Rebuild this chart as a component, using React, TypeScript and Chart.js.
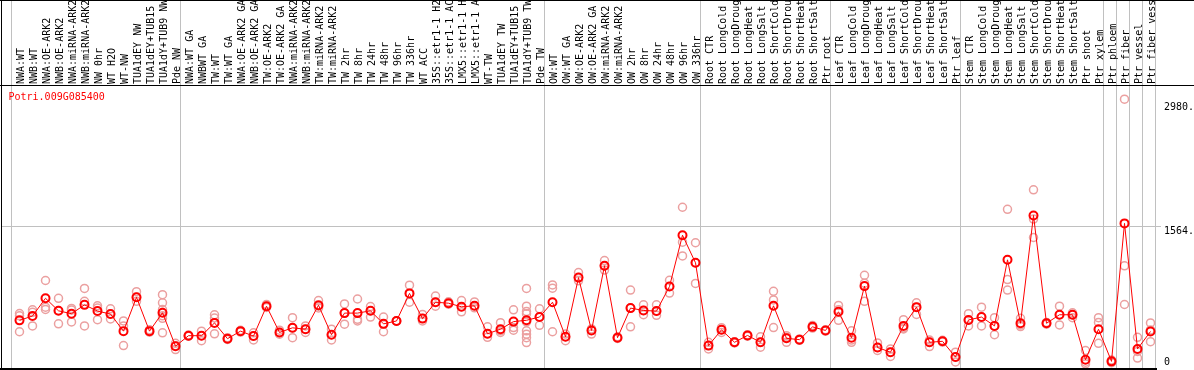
import React, { useEffect, useRef } from "react";
import { Chart, registerables } from "chart.js";

Chart.register(...registerables);

const geneName = "Potri.009G085400";

const categories: string[] = [
  "NWA:WT", "NWB:WT", "NWA:OE-ARK2", "NWB:OE-ARK2", "NWA:miRNA-ARK2", "NWB:miRNA-ARK2",
  "NW 0hr", "WT H2O", "WT-NW", "TUA1dEY NW", "TUA1dEY+TUB15 NW", "TUA1dY+TUB9 NW", "Pde NW",
  "NWA:WT GA", "NWBWT GA", "TW:WT", "TW:WT GA", "NWA:OE-ARK2 GA", "NWB:OE-ARK2 GA",
  "TW:OE-ARK2", "TW:OE-ARK2 GA", "NWA:miRNA-ARK2 GA", "NWB:miRNA-ARK2 GA", "TW:miRNA-ARK2",
  "TW:miRNA-ARK2 GA", "TW 2hr", "TW 8hr", "TW 24hr", "TW 48hr", "TW 96hr", "TW 336hr",
  "WT ACC", "35S::etr1-1 H2O", "35S::etr1-1 ACC", "LMX5::etr1-1 H2O", "LMX5::etr1-1 ACC",
  "WT-TW", "TUA1dEY TW", "TUA1dEY+TUB15 TW", "TUA1dY+TUB9 TW", "Pde TW",
  "OW:WT", "OW:WT GA", "OW:OE-ARK2", "OW:OE-ARK2 GA", "OW:miRNA-ARK2", "OW:miRNA-ARK2 GA",
  "OW 2hr", "OW 8hr", "OW 24hr", "OW 48hr", "OW 96hr", "OW 336hr",
  "Root CTR", "Root LongCold", "Root LongDrought", "Root LongHeat", "Root LongSalt",
  "Root ShortCold", "Root ShortDrought", "Root ShortHeat", "Root ShortSalt", "Ptr root",
  "Leaf CTR", "Leaf LongCold", "Leaf LongDrought", "Leaf LongHeat", "Leaf LongSalt",
  "Leaf ShortCold", "Leaf ShortDrought", "Leaf ShortHeat", "Leaf ShortSalt", "Ptr leaf",
  "Stem CTR", "Stem LongCold", "Stem LongDrought", "Stem LongHeat", "Stem LongSalt",
  "Stem ShortCold", "Stem ShortDrought", "Stem ShortHeat", "Stem ShortSalt", "Ptr shoot",
  "Ptr xylem", "Ptr phloem", "Ptr fiber", "Ptr vessel", "Ptr fiber vessel",
];

const meanValues: number[] = [
  498, 548, 750, 607, 574, 675, 604, 570, 375, 761, 375, 585, 203,
  323, 323, 469, 289, 375, 319, 660, 360, 413, 397, 671, 334, 581, 581, 607, 458, 491, 806,
  518, 705, 694, 653, 664, 345, 397, 484, 499, 536,
  705, 311, 986, 383, 1121, 300, 638, 611, 604, 885, 1470, 1155,
  210, 390, 248, 326, 248, 664, 293, 278, 424, 383,
  596, 300, 889, 188, 135, 435, 649, 248, 259, 79,
  503, 536, 435, 1189, 465, 1695, 465, 562, 562, 49,
  397, 30, 1605, 172, 371,
];

const replicateValues: number[][] = [
  [575, 550, 368], [619, 590, 435], [953, 649, 622], [750, 610, 458], [634, 615, 480],
  [863, 716, 435], [664, 640, 506], [630, 570, 514], [491, 435, 210], [825, 761, 716],
  [390, 370, 365], [791, 698, 622, 550, 521, 356], [236, 208, 165],
  [330, 320, 318], [375, 323, 266], [562, 525, 345], [300, 290, 280], [385, 375, 365],
  [356, 319, 274], [680, 660, 645], [386, 360, 340], [529, 410, 300], [435, 397, 360],
  [724, 660, 640], [397, 334, 274], [686, 581, 454], [742, 510, 491], [656, 607, 536],
  [536, 458, 368], [495, 490, 488], [900, 806, 705], [566, 518, 491], [776, 705, 660],
  [710, 690, 682], [724, 653, 596], [709, 664, 641], [424, 345, 304], [472, 379, 360],
  [619, 416, 386], [863, 660, 600, 574, 480, 379, 340, 300, 244], [630, 536, 442],
  [903, 866, 368], [341, 311, 266], [1043, 986, 950], [400, 383, 341], [1181, 1121, 1072],
  [310, 300, 292], [844, 638, 424], [675, 611, 562], [675, 604, 555], [956, 885, 810],
  [1789, 1391, 1234], [1384, 1155, 919],
  [248, 210, 172], [415, 390, 360], [255, 248, 240], [335, 326, 318], [311, 248, 191],
  [829, 731, 416], [323, 305, 248], [285, 278, 270], [440, 424, 410], [390, 383, 376],
  [668, 620, 499], [379, 273, 248], [1013, 923, 716], [240, 188, 154], [172, 135, 86],
  [506, 410, 400], [698, 649, 566], [273, 248, 199], [270, 259, 250], [135, 79, 23],
  [574, 500, 435], [649, 536, 435], [529, 435, 334], [1766, 964, 844], [521, 445, 427],
  [1988, 1654, 1444], [475, 465, 455], [660, 562, 446], [585, 562, 529], [154, 20, 0],
  [529, 474, 236], [45, 30, 15], [3023, 1121, 679], [304, 144, 68], [469, 389, 255],
];

const groupStarts: number[] = [0, 13, 41, 53, 63, 73, 84, 85, 86, 87];
const yTickValues: number[] = [2980, 1564, 0];
const yTickLabels: string[] = ["2980.", "1564.", "0"];
const gridValues: number[] = [1564];
const Y_MAX = 3173;

const FONT = '10px "DejaVu Sans Mono", "Liberation Mono", monospace';

export default function App() {
  const ref = useRef<HTMLCanvasElement>(null);

  useEffect(() => {
    const canvas = ref.current;
    if (!canvas) return;

    const repPoints = replicateValues.flatMap((reps, i) =>
      reps.map((v) => ({ x: categories[i], y: v }))
    );

    const decor = {
      id: "decor",
      beforeDatasetsDraw(chart: any) {
        const ctx = chart.ctx as CanvasRenderingContext2D;
        const xs = chart.scales.x;
        const ys = chart.scales.y;
        const H = chart.height;
        ctx.save();
        ctx.fillStyle = "#c0c0c0";
        const band = xs.getPixelForValue(1) - xs.getPixelForValue(0);
        const bounds = groupStarts.map((k) => xs.getPixelForValue(k) - 8);
        bounds.push(xs.getPixelForValue(categories.length - 1) + band - 8);
        for (const b of bounds) ctx.fillRect(Math.floor(b), 0, 1, H);
        for (const g of gridValues) {
          ctx.fillRect(1, Math.floor(ys.getPixelForValue(g)), xs.right + 3, 1);
        }
        ctx.restore();
      },
      afterDraw(chart: any) {
        const ctx = chart.ctx as CanvasRenderingContext2D;
        const xs = chart.scales.x;
        const ys = chart.scales.y;
        const W = chart.width;
        const H = chart.height;
        ctx.save();
        ctx.save();
        ctx.beginPath();
        ctx.rect(0, 0, W, 85);
        ctx.clip();
        ctx.font = FONT;
        ctx.fillStyle = "#000";
        ctx.textAlign = "left";
        ctx.textBaseline = "alphabetic";
        categories.forEach((lab, i) => {
          const cx = xs.getPixelForValue(i);
          ctx.save();
          ctx.translate(cx + 4, 84);
          ctx.rotate(-Math.PI / 2);
          ctx.fillText(lab, 0, 0);
          ctx.restore();
        });
        ctx.restore();

        ctx.fillStyle = "#000";
        ctx.fillRect(0, 0, W, 1);
        ctx.fillRect(0, 85, W, 1);
        ctx.fillRect(1, 0, 1, H);
        ctx.fillRect(0, 368, Math.ceil(xs.right), 2);

        ctx.font = FONT;
        ctx.fillStyle = "#ff0000";
        ctx.textAlign = "left";
        ctx.textBaseline = "middle";
        ctx.fillText(geneName, 8.5, 97);

        ctx.fillStyle = "#000";
        yTickValues.forEach((v, i) => {
          const py = Math.min(ys.getPixelForValue(v) + 4.5, 362);
          ctx.fillText(yTickLabels[i], 1164, py);
        });
        ctx.restore();
      },
    };

    const chart = new Chart(canvas, {
      type: "line",
      data: {
        labels: categories,
        datasets: [
          {
            label: "mean",
            data: meanValues,
            borderColor: "#ff0000",
            borderWidth: 1,
            pointRadius: 4,
            pointBorderWidth: 2,
            pointBorderColor: "#ff0000",
            pointBackgroundColor: "rgba(0,0,0,0)",
            tension: 0,
            order: 0,
            clip: false,
          } as any,
          {
            label: "replicates",
            data: repPoints as any,
            showLine: false,
            pointRadius: 4,
            pointBorderWidth: 1.5,
            pointBorderColor: "#eba0a0",
            pointBackgroundColor: "rgba(0,0,0,0)",
            order: 1,
            clip: false,
          } as any,
        ],
      },
      options: {
        animation: false,
        responsive: false,
        devicePixelRatio: 1,
        layout: { padding: { left: 13, right: 37, top: 86, bottom: 3 } },
        plugins: { legend: { display: false }, tooltip: { enabled: false } },
        scales: {
          x: { type: "category", display: false, offset: true },
          y: { display: false, min: 0, max: Y_MAX },
        },
      },
      plugins: [decor],
    });

    return () => chart.destroy();
  }, []);

  return (
    <div style={{ position: "absolute", left: 0, top: 0, width: 1194, height: 370, background: "#fff" }}>
      <canvas ref={ref} width={1194} height={370} style={{ display: "block" }} />
    </div>
  );
}
